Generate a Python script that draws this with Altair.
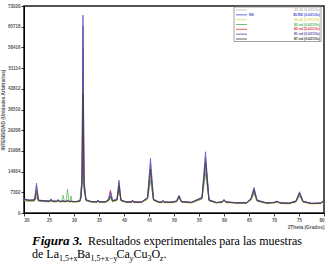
import altair as alt
import pandas as pd

# 2-theta sampling positions (degrees)
two_theta = [
    20.0, 21.0, 22.1, 22.5, 22.9, 24.0, 25.1, 25.4, 25.7, 26.5,
    26.8, 27.1, 27.5, 27.8, 28.1, 28.4, 28.7, 29.0, 29.2, 29.4,
    29.6, 30.5, 31.2, 31.4, 31.6, 31.8, 32.0, 32.4, 33.5, 34.6,
    34.8, 35.0, 36.3, 36.9, 37.3, 37.7, 38.6, 39.0, 39.4, 40.5,
    41.5, 41.7, 41.9, 43.5, 44.7, 45.3, 45.9, 47.0, 47.6, 47.8,
    48.0, 49.5, 50.5, 51.0, 51.5, 53.5, 55.6, 56.3, 57.0, 58.5,
    59.6, 60.0, 60.4, 62.5, 64.5, 65.4, 66.0, 66.6, 68.5, 70.0,
    70.6, 71.2, 73.0, 74.4, 75.1, 75.8, 77.5, 79.3, 79.7, 80.0,
]

int_gray = [
    4850, 4500, 4550, 6500, 4500, 4300, 4200, 4500, 4200, 4150,
    4400, 4150, 4100, 4250, 4100, 4100, 4300, 4100, 4050, 4150,
    4050, 4050, 4250, 5500, 10500, 45000, 9500, 4500, 4000, 3950,
    4300, 3950, 3950, 4400, 5800, 4200, 4600, 8200, 4400, 3900,
    3900, 4300, 3900, 3850, 5000, 12500, 4600, 3850, 3850, 4200,
    3850, 3800, 4100, 5400, 4000, 3750, 5000, 15500, 4400, 3700,
    3900, 4400, 3900, 3600, 3600, 4700, 7200, 4300, 3550, 3700,
    4000, 3600, 3450, 4000, 6500, 3950, 3400, 3500, 3900, 3500,
]
int_ns = [
    4900, 4500, 4600, 9500, 4500, 4300, 4200, 4800, 4200, 4150,
    4600, 4150, 4100, 4300, 4100, 4100, 4400, 4100, 4050, 4200,
    4050, 4050, 4300, 6000, 14000, 69800, 12000, 4600, 4000, 3950,
    4500, 3950, 3950, 4600, 7000, 4300, 4800, 11600, 4500, 3900,
    3900, 4500, 3900, 3850, 5500, 19300, 4800, 3850, 3850, 4400,
    3850, 3800, 4200, 6200, 4000, 3750, 5500, 21600, 4600, 3700,
    3900, 4700, 3900, 3600, 3600, 5000, 8600, 4500, 3550, 3700,
    4100, 3600, 3450, 4200, 7200, 4100, 3400, 3500, 4000, 3500,
]
int_yellow = [
    4500, 4200, 4300, 6000, 4200, 4000, 3900, 4200, 3900, 3850,
    4100, 3850, 3800, 3950, 3800, 3800, 3950, 3800, 3750, 3850,
    3750, 3750, 3950, 5200, 11000, 50000, 9500, 4200, 3700, 3650,
    3950, 3650, 3650, 4100, 5500, 3900, 4300, 8500, 4100, 3600,
    3600, 3900, 3600, 3550, 4800, 13000, 4300, 3550, 3550, 3800,
    3550, 3500, 3800, 5200, 3700, 3450, 4900, 16000, 4200, 3400,
    3550, 4100, 3550, 3300, 3300, 4500, 7000, 4100, 3250, 3400,
    3700, 3300, 3150, 3800, 6200, 3700, 3100, 3200, 3600, 3200,
]
int_green = [
    4300, 4100, 4200, 5500, 4100, 4000, 3950, 4200, 3950, 3950,
    4200, 3950, 3950, 6300, 3950, 3950, 8350, 4000, 4000, 6000,
    4000, 4000, 4300, 9200, 9000, 30000, 8000, 4400, 3900, 3850,
    4200, 3850, 3850, 4300, 5200, 4000, 4500, 8000, 4300, 3800,
    3800, 4200, 3800, 3750, 4800, 11500, 4400, 3750, 3750, 4100,
    3750, 3700, 4000, 5300, 3900, 3650, 4900, 14000, 4300, 3600,
    3800, 4300, 3800, 3500, 3500, 4600, 7000, 4200, 3450, 3600,
    3900, 3500, 3350, 3900, 6000, 3850, 3300, 3400, 3800, 3400,
]
int_red = [
    4700, 4400, 4500, 7200, 4400, 4250, 4150, 4600, 4150, 4100,
    4500, 4100, 4050, 4250, 4050, 4050, 4300, 4050, 4000, 4150,
    4000, 4000, 4250, 5800, 12000, 58000, 10500, 4550, 3950, 3900,
    4400, 3900, 3900, 5000, 8100, 4300, 4600, 9000, 4400, 3850,
    3850, 4300, 3850, 3800, 5200, 14500, 4600, 3800, 3800, 4200,
    3800, 3750, 4100, 5600, 3950, 3700, 5300, 18500, 4500, 3650,
    3850, 4500, 3850, 3550, 3550, 4800, 7800, 4400, 3500, 3650,
    4000, 3550, 3400, 4100, 6800, 4000, 3350, 3450, 3900, 3450,
]
int_purple = [
    5000, 4600, 4700, 10500, 4600, 4350, 4250, 5000, 4250, 4200,
    4800, 4200, 4150, 4400, 4150, 4150, 4500, 4150, 4100, 4300,
    4100, 4100, 4400, 6500, 13000, 66000, 11000, 4700, 4050, 4000,
    4600, 4000, 4000, 4800, 7600, 4400, 4900, 10800, 4600, 3950,
    3950, 4600, 3950, 3900, 5400, 17500, 4900, 3900, 3900, 4500,
    3900, 3850, 4300, 6000, 4100, 3800, 5600, 19800, 4700, 3750,
    3950, 4800, 3950, 3650, 3650, 5200, 9000, 4600, 3600, 3750,
    4200, 3650, 3500, 4300, 7500, 4200, 3450, 3550, 4100, 3550,
]
int_dark = [
    4800, 4450, 4550, 8000, 4450, 4250, 4150, 4500, 4150, 4100,
    4400, 4100, 4050, 4200, 4050, 4050, 4250, 4050, 4000, 4100,
    4000, 4000, 4200, 5500, 10000, 42000, 9000, 4500, 3950, 3900,
    4300, 3900, 3900, 4400, 6000, 4200, 4700, 9800, 4400, 3850,
    3850, 4300, 3850, 3800, 5300, 15500, 4700, 3800, 3800, 4200,
    3800, 3750, 4100, 6000, 3950, 3700, 5300, 17500, 4500, 3650,
    3850, 4500, 3850, 3550, 3550, 5000, 8200, 4400, 3500, 3700,
    4050, 3550, 3400, 4100, 7000, 4050, 3350, 3450, 3950, 3450,
]

series_ids = ["s1", "s2", "s3", "s4", "s5", "s6", "s7"]
series_colors = ["#b9b9b9", "#4a4ad0", "#e4da5c", "#4fb04f", "#e23a3a", "#5a4f9e", "#3a3a3a"]
legend_left = ["", "NS", "", "", "", "", ""]
legend_right = [
    "55.10 (0.021/3s)", "85.RD (0.021/3s)", "86.00 (0.021/3s)", "83.nd (0.021/3s)",
    "82.nd (0.021/3s)", "81.nd (0.021/3s)", "87.nd (0.021/3s)",
]
y_ticks = [0, 7302, 14604, 21906, 29208, 36510, 43812, 51114, 58416, 65718, 73020]
x_ticks = [20, 25, 30, 35, 40, 45, 50, 55, 60, 65, 70, 75, 80]

values_by_id = {
    "s1": int_gray, "s2": int_ns, "s3": int_yellow, "s4": int_green,
    "s5": int_red, "s6": int_purple, "s7": int_dark,
}
draw_order = ["s3", "s1", "s4", "s5", "s2", "s6", "s7"]
rows = []
for k, sid in enumerate(draw_order):
    for t, v in zip(two_theta, values_by_id[sid]):
        rows.append({"theta": t, "intensity": v, "series": sid, "ord": k})
df = pd.DataFrame(rows)

color_scale = alt.Scale(domain=series_ids, range=series_colors)

lines = alt.Chart(df).mark_line(strokeWidth=0.7, clip=True).encode(
    x=alt.X("theta:Q", scale=alt.Scale(domain=[20, 80], nice=False, zero=False),
            axis=alt.Axis(values=x_ticks, title="2Theta (Grados)", titleAnchor="end",
                          titlePadding=3, grid=False, tickSize=3, labelPadding=1)),
    y=alt.Y("intensity:Q", scale=alt.Scale(domain=[0, 73020], nice=False),
            axis=alt.Axis(values=y_ticks, format="d", title="INTENSIDAD (Unidades Arbitrarias)",
                          grid=False, tickSize=3, labelPadding=1, titlePadding=2)),
    color=alt.Color("series:N", scale=color_scale, legend=None),
    order=alt.Order("ord:Q"),
)

leg_df = pd.DataFrame({"series": series_ids, "left": legend_left, "right": legend_right})
leg_y = alt.Y("series:N", scale=alt.Scale(type="point", domain=series_ids, range=[4, 33], padding=0),
              axis=None)

box = alt.Chart(pd.DataFrame({"a": [0]})).mark_rect(
    fill="white", stroke="#8a8a8a", strokeWidth=0.8
).encode(x=alt.value(210), x2=alt.value(297), y=alt.value(1), y2=alt.value(35.5))

leg_rules = alt.Chart(leg_df).mark_rule(strokeWidth=0.8).encode(
    x=alt.value(212), x2=alt.value(223), y=leg_y,
    color=alt.Color("series:N", scale=color_scale, legend=None),
)
leg_left = alt.Chart(leg_df).mark_text(
    align="left", baseline="middle", fontSize=3.5, font="Liberation Sans", fontWeight="bold"
).encode(x=alt.value(225), y=leg_y, text="left:N",
         color=alt.Color("series:N", scale=color_scale, legend=None))
leg_right = alt.Chart(leg_df).mark_text(
    align="right", baseline="middle", fontSize=3.5, font="Liberation Sans", fontWeight="bold"
).encode(x=alt.value(296), y=leg_y, text="right:N",
         color=alt.Color("series:N", scale=color_scale, legend=None))

one = pd.DataFrame({"a": [0]})


def cap(txt, x, y, size=12, style="normal", weight="normal"):
    return alt.Chart(one).mark_text(
        text=txt, align="left", baseline="alphabetic", font="Liberation Serif",
        fontSize=size, fontStyle=style, fontWeight=weight, color="black"
    ).encode(x=alt.value(x), y=alt.value(y))


l1 = 239
l2 = 252
sub = 255
caption = [
    cap("Figura 3.", 8, l1, size=13, style="italic", weight="bold"),
    cap("Resultados experimentales para las muestras", 64, l1),
    cap("de La", 8, l2),
    cap("1,5+x", 35, sub, size=8),
    cap("Ba", 53.1, l2),
    cap("1,5+x\u2212y", 66.4, sub, size=8),
    cap("Ca", 92.5, l2),
    cap("y", 105.8, sub, size=8, style="italic"),
    cap("Cu", 109.4, l2),
    cap("3", 123.4, sub, size=8),
    cap("O", 127.4, l2),
    cap("z", 136.1, sub, size=8, style="italic"),
    cap(".", 139.6, l2),
]

chart = alt.layer(lines, box, leg_rules, leg_left, leg_right, *caption).resolve_scale(
    y="independent"
).properties(
    width=300, height=207,
    autosize=alt.AutoSizeParams(type="none"),
    padding={"left": 24, "top": 6, "right": 4, "bottom": 59},
    background="white",
).configure_view(
    stroke="#1a1a1a", strokeWidth=1.5
).configure_axis(
    domainColor="black", domainWidth=1, tickColor="black", tickWidth=0.8,
    labelFont="Liberation Sans", labelFontSize=4.5, labelFontWeight="bold", labelColor="#555",
    titleFont="Liberation Sans", titleFontSize=4.8, titleFontWeight="bold", titleColor="#555",
)

chart.save("out.html", embed_options={"renderer": "svg", "actions": False})
